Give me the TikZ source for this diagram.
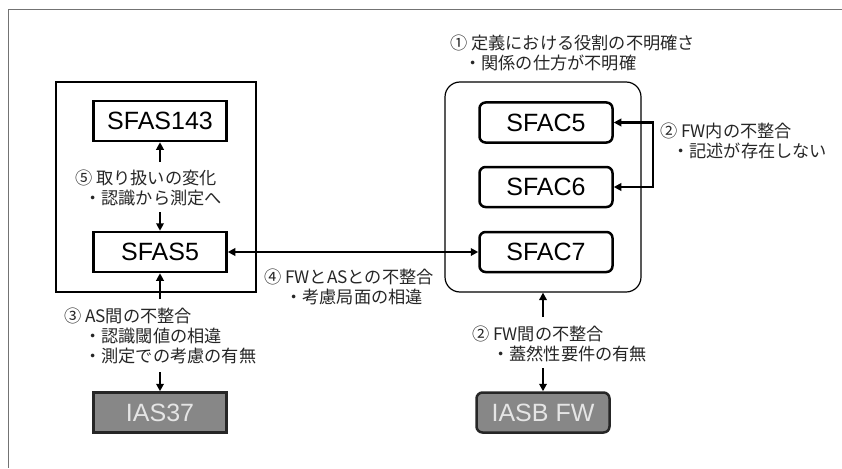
\documentclass[tikz,border=0pt]{standalone}
\usepackage{fontspec}
\setmainfont{Liberation Sans}
\newfontfamily\jpfont{Noto Sans CJK JP}
\usetikzlibrary{arrows.meta}
\begin{document}
\begin{tikzpicture}[x=1pt,y=-1pt]
\tikzstyle{asbox}=[draw,line width=2.5pt,minimum width=133pt,minimum height=40pt,inner sep=0pt,font=\fontsize{25}{30}\selectfont]
\tikzstyle{fwbox}=[asbox,rounded corners=6pt]
\tikzstyle{iasbox}=[asbox,draw=black!85,fill=black!47,text=white!90!black]
\tikzstyle{groupbox}=[draw,line width=1.2pt,inner sep=0pt]
\tikzstyle{issue}=[anchor=west,align=left,inner sep=0pt,text=black!85,font=\jpfont\fontsize{17.2}{20}\selectfont]
\tikzstyle{arr}=[line width=2.5pt,-{Triangle[length=7.5pt,width=7.5pt]}]
\tikzstyle{arrboth}=[line width=2.5pt,{Triangle[length=7.5pt,width=7.5pt]}-{Triangle[length=7.5pt,width=7.5pt]}]
\useasboundingbox (0,0) rectangle (842,468);
\draw[black!55,line width=1.5pt] (842,9.5) -- (8.5,9.5) -- (8.5,468);
\node[groupbox,minimum width=200pt,minimum height=210pt] (asgroup) at (156,187) {};
\node[groupbox,rounded corners=15pt,minimum width=196pt,minimum height=210pt] (fwgroup) at (543,187) {};
\node[asbox] (sfas143) at (160,121) {SFAS143};
\node[asbox] (sfas5) at (160,252) {SFAS5};
\node[iasbox] (ias37) at (160,412.5) {IAS37};
\node[fwbox] (sfac5) at (546,122.5) {SFAC5};
\node[fwbox] (sfac6) at (546,187) {SFAC6};
\node[fwbox] (sfac7) at (546,252) {SFAC7};
\node[iasbox,rounded corners=6pt] (iasbfw) at (543,412.5) {IASB FW};
\node[issue] (q1) at (450,53) {① 定義における役割の不明確さ\\\hspace*{14pt}・関係の仕方が不明確};
\node[issue] (q2in) at (660,141) {② FW内の不整合\\\hspace*{12pt}・記述が存在しない};
\node[issue] (q5) at (75,187.5) {⑤ 取り扱いの変化\\\hspace*{9pt}・認識から測定へ};
\node[issue] (q3) at (64,336) {③ AS間の不整合\\\hspace*{20pt}・認識閾値の相違\\\hspace*{20pt}・測定での考慮の有無};
\node[issue] (q4) at (264,287) {④ FWとASとの不整合\\\hspace*{21pt}・考慮局面の相違};
\node[issue] (q2bw) at (472,343.5) {② FW間の不整合\\\hspace*{20pt}・蓋然性要件の有無};
\coordinate (a5up) at (160,162);
\coordinate (a5dn) at (160,212);
\coordinate (a3up) at (160,299);
\coordinate (a3dn) at (160,372);
\coordinate (a2up) at (543,317);
\coordinate (a2dn) at (543,368);
\draw[arr] (a5up) -- (sfas143.south);
\draw[arr] (a5dn) -- (sfas5.north);
\draw[arr] (a3up) -- (sfas5.south);
\draw[arr] (a3dn) -- (ias37.north);
\draw[arr] (a2up) -- (fwgroup.south);
\draw[arr] (a2dn) -- (iasbfw.north);
\draw[arrboth] (sfas5.east) -- (sfac7.west);
\draw[arrboth] (sfac5.east) -- ++(39,0) |- (sfac6.east);
\end{tikzpicture}
\end{document}
